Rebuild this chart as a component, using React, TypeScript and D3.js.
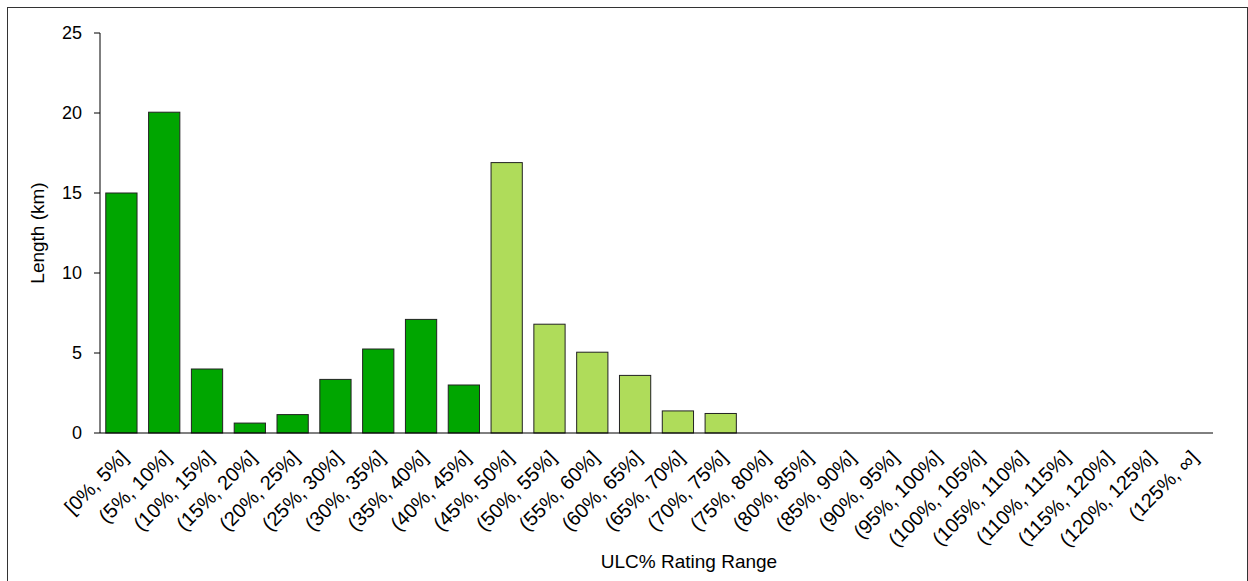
import * as d3 from "d3";

const CATEGORIES = [
  "[0%, 5%]", "(5%, 10%]", "(10%, 15%]", "(15%, 20%]", "(20%, 25%]", "(25%, 30%]",
  "(30%, 35%]", "(35%, 40%]", "(40%, 45%]", "(45%, 50%]", "(50%, 55%]", "(55%, 60%]",
  "(60%, 65%]", "(65%, 70%]", "(70%, 75%]", "(75%, 80%]", "(80%, 85%]", "(85%, 90%]",
  "(90%, 95%]", "(95%, 100%]", "(100%, 105%]", "(105%, 110%]", "(110%, 115%]",
  "(115%, 120%]", "(120%, 125%]", "(125%, ∞]",
];
const LENGTHS = [15.0, 20.05, 4.0, 0.62, 1.15, 3.35, 5.25, 7.1, 3.0, 16.9, 6.8, 5.05, 3.6, 1.38, 1.22, 0, 0, 0, 0, 0, 0, 0, 0, 0, 0, 0];
// first nine ranges are drawn in the darker green
const DARK_COUNT = 9;
const Y_TICKS = [0, 5, 10, 15, 20, 25];

const W = 1248;
const H = 581;
const M = { left: 100, right: 35, top: 33, bottom: 148 };
const FONT = "Liberation Sans, Arial, sans-serif";

export default function App() {
  const x = d3.scaleBand().domain(CATEGORIES).range([M.left, W - M.right]).paddingInner(0.27).paddingOuter(0.135);
  const y = d3.scaleLinear().domain([0, 25]).range([H - M.bottom, M.top]);
  const y0 = y(0);

  return (
    <svg width={W} height={H} style={{ position: "absolute", left: 0, top: 0 }} fontFamily={FONT}>
      <rect x={7.5} y={7.5} width={W - 8} height={H} fill="white" stroke="#333" strokeWidth={1} />

      {CATEGORIES.map((c, i) =>
        LENGTHS[i] > 0 ? (
          <rect
            key={c}
            x={x(c)}
            y={y(LENGTHS[i])}
            width={x.bandwidth()}
            height={y0 - y(LENGTHS[i])}
            fill={i < DARK_COUNT ? "#00a600" : "#afdc5a"}
            stroke="#222"
            strokeWidth={1}
          />
        ) : null
      )}

      {/* y axis */}
      <line x1={M.left} x2={M.left} y1={y(25)} y2={y0} stroke="#000" />
      {Y_TICKS.map((t) => (
        <g key={t}>
          <line x1={M.left - 6} x2={M.left} y1={y(t)} y2={y(t)} stroke="#000" />
          <text x={M.left - 18} y={y(t)} dy="0.35em" textAnchor="end" fontSize={18}>
            {t}
          </text>
        </g>
      ))}
      <text transform={`translate(44,${(y(25) + y0) / 2}) rotate(-90)`} textAnchor="middle" fontSize={19}>
        Length (km)
      </text>

      {/* x axis */}
      <line x1={M.left} x2={W - M.right} y1={y0} y2={y0} stroke="#000" />
      {CATEGORIES.map((c) => {
        const cx = (x(c) as number) + x.bandwidth() / 2 - 2;
        return (
          <text key={c} transform={`translate(${cx},${y0 + 16}) rotate(-45)`} textAnchor="end" dy="0.7em" fontSize={20}>
            {c}
          </text>
        );
      })}
      <text x={689} y={568} textAnchor="middle" fontSize={19}>
        ULC% Rating Range
      </text>
    </svg>
  );
}
